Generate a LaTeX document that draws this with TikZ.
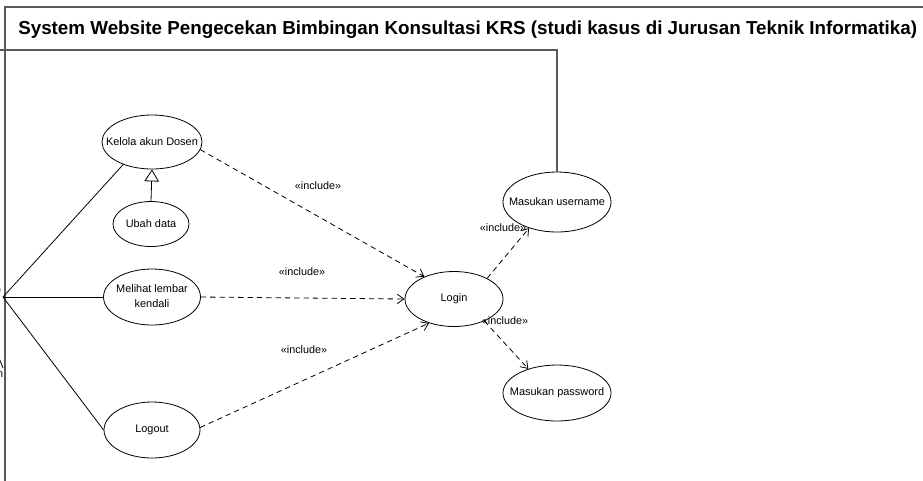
\documentclass[tikz,border=0pt]{standalone}
\usepackage{fontspec}
\setmainfont{Liberation Sans}
\usetikzlibrary{arrows.meta,shapes.geometric}

\begin{document}
\begin{tikzpicture}[x=0.75pt,y=-0.75pt,
  uc/.style 2 args={ellipse,draw,line width=0.6pt,inner sep=0pt,
    minimum width=#1*0.75pt,minimum height=#2*0.75pt,
    font=\fontsize{8.2}{10}\selectfont},
  frameline/.style={draw=black!65,line width=1.1pt},
  assoc/.style={draw,line width=0.6pt},
  inc/.style={draw,line width=0.6pt,dashed,dash pattern=on 4pt off 3pt,
    -{Straight Barb[length=5pt,width=7pt]}},
  gen/.style={draw,line width=0.6pt,-{Triangle[open,length=9pt,width=11pt]}},
  lbl/.style={inner sep=0pt,font=\fontsize{8.1}{9.5}\selectfont},
  title/.style={inner sep=0pt,anchor=west,font=\bfseries\fontsize{14.1}{17}\selectfont}]

\useasboundingbox (0,0) rectangle (923,480);

% system boundary
\draw[frameline] (5,482) -- (5,7) -- (930,7);
\node[title] (ttl) at (18,30) {System Website Pengecekan Bimbingan Konsultasi KRS (studi kasus di Jurusan Teknik Informatika)};

% actor (stick figure on the left edge)
\draw[line width=0.6pt] (-8,290) circle (8);
\draw[line width=0.6pt] (-8,298) -- (-8,340) (-20,312) -- (0,312)
  (-8,340) -- (-19,368) (-8,340) -- (3,368);
\node[lbl,anchor=north east] (actorname) at (3.5,369) {Admin};
\coordinate (actor) at (3,297);

% use cases (text boxes of zero width keep the ellipses at their set size)
\node[uc={100}{54}] (kelola) at (152,142) {\makebox[0pt]{Kelola akun Dosen}};
\node[uc={76}{45}] (ubah) at (151,224) {\makebox[0pt]{Ubah data}};
\node[uc={97}{56}] (melihat) at (152,297)
  {\makebox[0pt]{\begin{tabular}{@{}c@{}}Melihat lembar\\[1.5pt]kendali\end{tabular}}};
\node[uc={96}{56}] (logout) at (152,430) {\makebox[0pt]{Logout}};
\node[uc={98}{55}] (login) at (454,299) {\makebox[0pt]{Login}};
\node[uc={108}{60}] (user) at (557,202) {\makebox[0pt]{Masukan username}};
\node[uc={108}{56}] (pass) at (557,393) {\makebox[0pt]{Masukan password}};

% line from the left edge to Masukan username
\coordinate (topleft) at (0,50);
\draw[frameline] (topleft) -- (topleft -| user.north) -- (user.north);

% associations
\draw[assoc] (actor) -- (kelola.218);
\draw[assoc] (actor) -- (melihat.west);
\draw[assoc] (actor) -- (logout.west);

% generalization
\draw[gen] (ubah.north) -- (kelola.south);

% include relations
\draw[inc] (kelola.-9) -- (login.143);
\draw[inc] (melihat.east) -- (login.west);
\draw[inc] (logout.3) -- (login.-136);
\draw[inc] (login.32) -- (user.-137);
\draw[inc] (login.-36) -- (pass.140);

\node[lbl] (i1) at (318,186) {«include»};
\node[lbl] (i2) at (302,272) {«include»};
\node[lbl] (i3) at (304,350) {«include»};
\node[lbl] (i4) at (503,228) {«include»};
\node[lbl] (i5) at (505,321) {«include»};
\end{tikzpicture}
\end{document}
